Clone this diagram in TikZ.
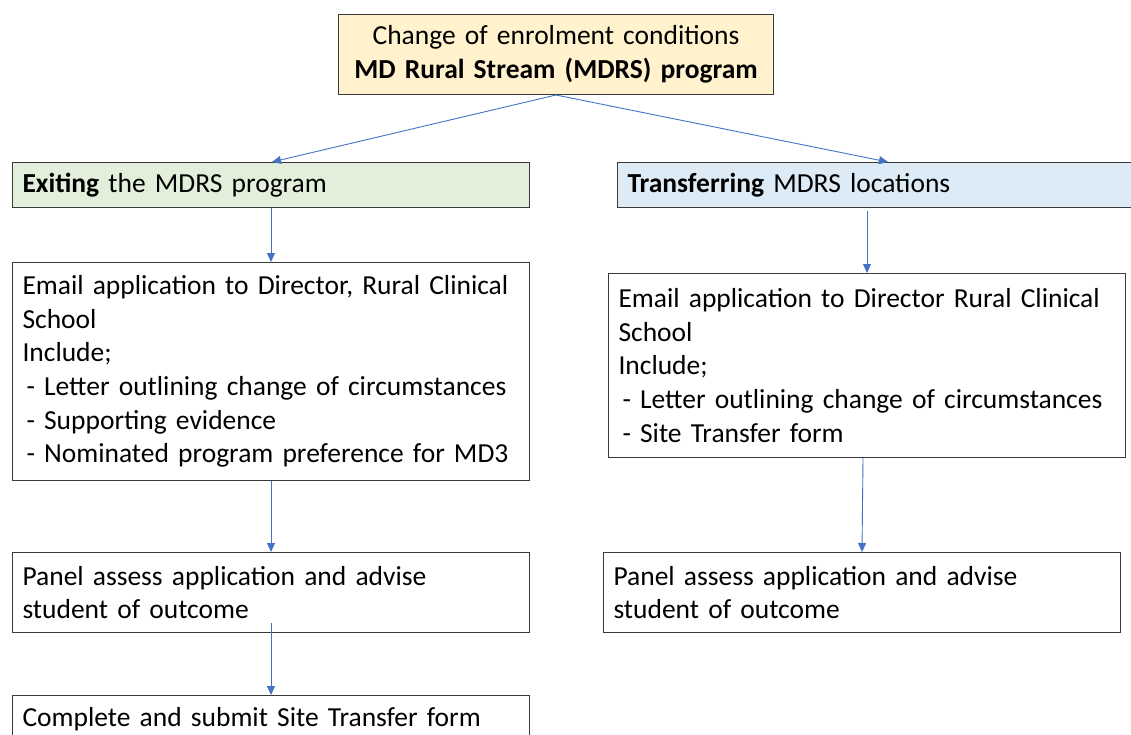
\documentclass[tikz,border=0pt]{standalone}
\usepackage{fontspec}
\setmainfont{Carlito}
\usetikzlibrary{arrows.meta}

\definecolor{headyellow}{HTML}{FFF2CC}
\definecolor{exitgreen}{HTML}{E2EFDA}
\definecolor{transblue}{HTML}{DDEBF7}
\definecolor{arrowblue}{HTML}{4472C4}
\definecolor{boxline}{HTML}{3A3A3A}

\begin{document}
\begin{tikzpicture}[x=1pt, y=-1pt,
  every node/.style={font=\fontsize{27.5}{33.6}\selectfont},
  stepbox/.style={draw=boxline, line width=1pt, anchor=north west, inner xsep=10pt, inner ysep=0pt, align=left},
  flow/.style={draw=arrowblue, line width=0.9pt, -{Triangle[length=9pt,width=8pt]}}]

\useasboundingbox (0,0) rectangle (1131,735);

% heading
\node[stepbox, fill=headyellow, align=center, minimum width=435pt, minimum height=80pt, text width=415pt] (head) at (338,14)
  {Change of enrolment conditions\\ \textbf{MD Rural Stream (MDRS) program}};

% two options
\node[stepbox, fill=exitgreen, minimum width=517pt, minimum height=45pt, text width=497pt] (exit) at (12,162)
  {\textbf{Exiting} the MDRS program};
\node[stepbox, fill=transblue, minimum width=530pt, minimum height=45pt, text width=510pt] (trans) at (617,162)
  {\textbf{Transferring} MDRS locations};

% left column
\node[stepbox, minimum width=517pt, minimum height=218pt, text width=497pt] (emailL) at (12,262)
  {Email application to Director, Rural Clinical\\ School\\ Include;\\
   \hspace*{4pt}- Letter outlining change of circumstances\\
   \hspace*{4pt}- Supporting evidence\\
   \hspace*{4pt}- Nominated program preference for MD3};
\node[stepbox, minimum width=517pt, minimum height=80pt, text width=497pt] (panelL) at (12,552)
  {Panel assess application and advise\\ student of outcome};
\node[stepbox, minimum width=517pt, minimum height=48pt, text width=497pt] (formL) at (12,695)
  {Complete and submit Site Transfer form};

% right column
\node[stepbox, minimum width=517pt, minimum height=184pt, text width=497pt] (emailR) at (608,273)
  {Email application to Director Rural Clinical\\ School\\ Include;\\
   \hspace*{4pt}- Letter outlining change of circumstances\\
   \hspace*{4pt}- Site Transfer form};
\node[stepbox, minimum width=517pt, minimum height=80pt, text width=497pt] (panelR) at (603,552)
  {Panel assess application and advise\\ student of outcome};

% arrows
\draw[flow] (head.south) -- ([xshift=1pt]exit.north);
\draw[flow] (head.south) -- ([xshift=271pt]trans.north west);
\draw[flow] (exit.south) -- (emailL.north);
\draw[flow] (emailL.south) -- (panelL.north);
\draw[flow] ([yshift=10pt]panelL.south) -- (formL.north);
\draw[flow] ([yshift=-3pt]emailR.north |- trans.south) -- (emailR.north);
\draw[flow] ([xshift=-4pt]emailR.south) -- (panelR.north);

\end{tikzpicture}
\end{document}
